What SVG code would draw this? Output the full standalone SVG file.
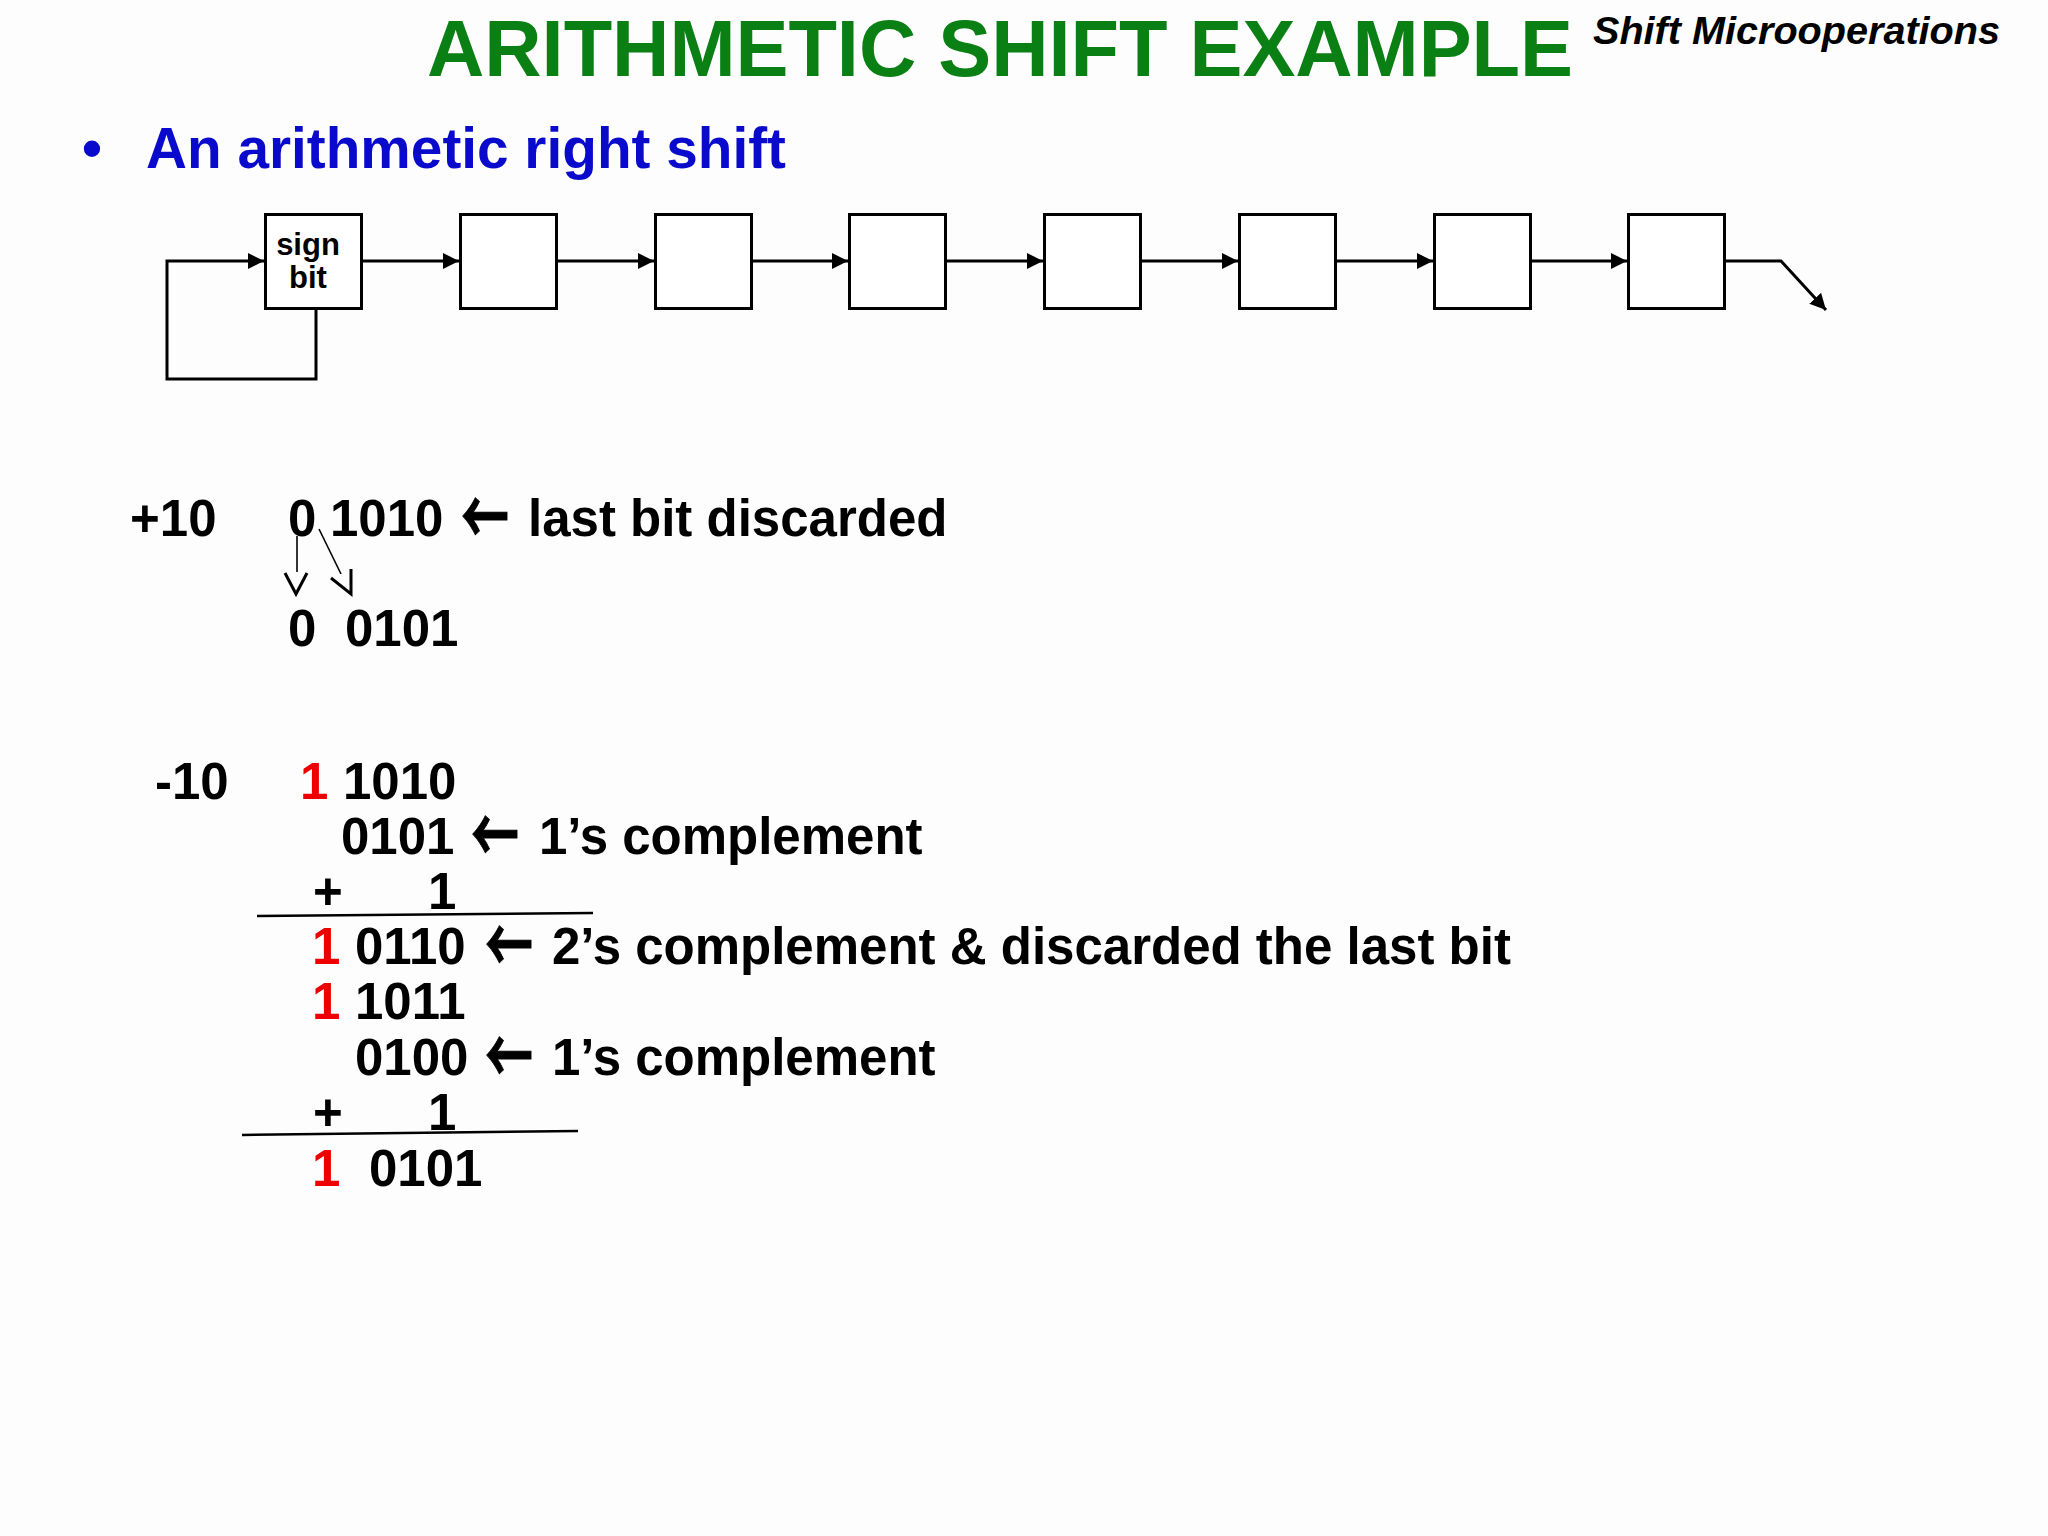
<svg xmlns="http://www.w3.org/2000/svg" width="2048" height="1536" viewBox="0 0 2048 1536">
<style>
.t{font-family:"Liberation Sans",Arial,sans-serif;font-weight:bold;font-size:51px;fill:#000}
.r{fill:#ee0000}
.arr{font-family:"Noto Sans CJK SC",sans-serif;font-weight:bold;font-size:48px;fill:#000;stroke:#000;stroke-width:0.6}
.box{fill:#fff;stroke:#000;stroke-width:3}
.ln{fill:none;stroke:#000;stroke-width:3}
.thin{fill:none;stroke:#000;stroke-width:1.6}
.chev{fill:none;stroke:#000;stroke-width:3}
.rule{fill:none;stroke:#000;stroke-width:2.5}
</style>
<defs>
<marker id="ah" viewBox="0 0 16 16" refX="16" refY="8" markerWidth="16" markerHeight="16" markerUnits="userSpaceOnUse" orient="auto">
<path d="M0,0 L16,8 L0,16 z" fill="#000"/>
</marker>
</defs>
<rect width="2048" height="1536" fill="#fdfdfd"/>
<g id="title">
<text x="427" y="76" font-family="Liberation Sans,Arial,sans-serif" font-weight="bold" font-size="80" fill="#0a7f14" textLength="1146" lengthAdjust="spacingAndGlyphs">ARITHMETIC SHIFT EXAMPLE</text>
<text x="1593" y="44" font-family="Liberation Sans,Arial,sans-serif" font-weight="bold" font-style="italic" font-size="38" fill="#000" textLength="407" lengthAdjust="spacingAndGlyphs">Shift Microoperations</text>
</g>
<g id="bullet">
<text x="82" y="168" font-family="Liberation Sans,Arial,sans-serif" font-weight="bold" font-size="57" fill="#0a0acc">•</text>
<text x="146" y="168" font-family="Liberation Sans,Arial,sans-serif" font-weight="bold" font-size="57" fill="#0a0acc" textLength="640" lengthAdjust="spacingAndGlyphs">An arithmetic right shift</text>
</g>
<g id="register">
<g id="b1"><rect class="box" x="265.5" y="214.5" width="96" height="94"/>
<text x="308" y="255" text-anchor="middle" font-family="Liberation Sans,Arial,sans-serif" font-weight="bold" font-size="31">sign</text>
<text x="308" y="288" text-anchor="middle" font-family="Liberation Sans,Arial,sans-serif" font-weight="bold" font-size="31">bit</text></g>
<g id="b2"><rect class="box" x="460.5" y="214.5" width="96" height="94"/></g>
<g id="b3"><rect class="box" x="655.5" y="214.5" width="96" height="94"/></g>
<g id="b4"><rect class="box" x="849.5" y="214.5" width="96" height="94"/></g>
<g id="b5"><rect class="box" x="1044.5" y="214.5" width="96" height="94"/></g>
<g id="b6"><rect class="box" x="1239.5" y="214.5" width="96" height="94"/></g>
<g id="b7"><rect class="box" x="1434.5" y="214.5" width="96" height="94"/></g>
<g id="b8"><rect class="box" x="1628.5" y="214.5" width="96" height="94"/></g>
</g>
<g id="connectors">
<path class="ln" d="M316,310 V379 H167 V261 H264" marker-end="url(#ah)"/>
<path class="ln" d="M363,261 H459" marker-end="url(#ah)"/>
<path class="ln" d="M558,261 H654" marker-end="url(#ah)"/>
<path class="ln" d="M753,261 H848" marker-end="url(#ah)"/>
<path class="ln" d="M947,261 H1043" marker-end="url(#ah)"/>
<path class="ln" d="M1142,261 H1238" marker-end="url(#ah)"/>
<path class="ln" d="M1337,261 H1433" marker-end="url(#ah)"/>
<path class="ln" d="M1532,261 H1627" marker-end="url(#ah)"/>
<path class="ln" d="M1726,261 H1781 L1826,310" marker-end="url(#ah)"/>
<line class="thin" x1="297" y1="536" x2="297" y2="572"/>
<polyline class="chev" points="285,573 296,594 307,573"/>
<line class="thin" x1="319" y1="529" x2="341" y2="574"/>
<polyline class="chev" points="331,578 351,594 351,569"/>
</g>
<g id="plus10">
<text class="t" y="536"><tspan x="130">+10</tspan><tspan x="288">0</tspan><tspan x="330">1010</tspan><tspan x="528">last bit discarded</tspan></text>
<text class="arr" transform="translate(461,546) scale(1,1.6)">←</text>
<text class="t" y="646"><tspan x="288">0</tspan><tspan x="345">0101</tspan></text>
</g>
<g id="minus10">
<text class="t" y="799"><tspan x="155">-10</tspan><tspan class="r" x="300">1</tspan><tspan x="343">1010</tspan></text>
<text class="t" y="854"><tspan x="341">0101</tspan><tspan x="539">1’s complement</tspan></text>
<text class="arr" transform="translate(471,864) scale(1,1.6)">←</text>
<text class="t" y="909"><tspan x="313">+</tspan><tspan x="428">1</tspan></text>
<line class="rule" x1="257" y1="916" x2="593" y2="913"/>
<text class="t" y="964"><tspan class="r" x="312">1</tspan><tspan x="355">0110</tspan><tspan x="552">2’s complement &amp; discarded the last bit</tspan></text>
<text class="arr" transform="translate(485,974) scale(1,1.6)">←</text>
<text class="t" y="1019"><tspan class="r" x="312">1</tspan><tspan x="355">1011</tspan></text>
<text class="t" y="1075"><tspan x="355">0100</tspan><tspan x="552">1’s complement</tspan></text>
<text class="arr" transform="translate(485,1085) scale(1,1.6)">←</text>
<text class="t" y="1130"><tspan x="313">+</tspan><tspan x="428">1</tspan></text>
<line class="rule" x1="242" y1="1135" x2="578" y2="1131"/>
<text class="t" y="1186"><tspan class="r" x="312">1</tspan><tspan x="369">0101</tspan></text>
</g>
</svg>
